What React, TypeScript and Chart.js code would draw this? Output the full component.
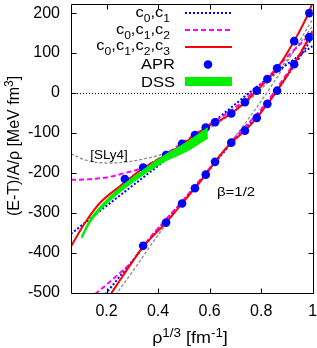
import React, { useEffect, useRef } from 'react';
import { Chart, registerables } from 'chart.js';

Chart.register(...registerables);

const FONT = "'Liberation Sans', Arial, Helvetica, sans-serif";

// axis ticks
const xTicks = [0.2, 0.4, 0.6, 0.8, 1.0];
const yTicks = [-500, -400, -300, -200, -100, 0, 100, 200];

// APR points
const aprUpperX = [0.271, 0.342, 0.431, 0.493, 0.543, 0.585, 0.621, 0.684, 0.737, 0.783, 0.824, 0.862, 0.928, 0.987];
const aprUpperY = [-215, -186, -155, -127, -105, -86, -73, -51, -23, 6, 35, 62, 130, 200];
const aprLowerX = [0.342, 0.431, 0.493, 0.543, 0.585, 0.621, 0.684, 0.737, 0.783, 0.824, 0.862, 0.928, 0.987];
const aprLowerY = [-382, -324, -276, -238, -204, -172, -124, -94, -62, -27, 6, 72, 140];

// upper branch curves
const redUpperX = [0.062, 0.1, 0.123, 0.174, 0.252, 0.342, 0.431, 0.5, 0.585, 0.684, 0.783, 0.862, 0.928, 0.987, 1.0];
const redUpperY = [-384, -341, -318, -275, -233, -188, -155, -126, -87, -51, 6, 62, 130, 205, 228];
const magUpperX = [0.062, 0.12, 0.2, 0.27, 0.335, 0.4, 0.5, 0.6, 0.7, 0.8, 0.9, 1.0];
const magUpperY = [-217, -216, -211, -200, -188, -165, -122, -78, -36, 22, 90, 152];
const blueUpperX = [0.062, 0.2, 0.4, 0.6, 0.8, 1.0];
const blueUpperY = [-352, -282, -182, -80, 24, 118];
const slyUpperX = [0.062, 0.12, 0.2, 0.28, 0.35, 0.42, 0.5, 0.6, 0.7, 0.8, 0.9, 1.0];
const slyUpperY = [-152, -168, -175, -172, -164, -152, -127, -88, -45, 10, 82, 168];

// lower branch (beta = 1/2) curves
const redLowerX = [0.21, 0.25, 0.3, 0.342, 0.431, 0.493, 0.543, 0.585, 0.621, 0.684, 0.737, 0.783, 0.824, 0.862, 0.928, 0.987, 1.0];
const redLowerY = [-509, -470, -422, -384, -324, -276, -238, -204, -172, -124, -94, -62, -27, 6, 72, 140, 156];
const magLowerX = [0.155, 0.2, 0.25, 0.3, 0.342, 0.4, 0.5, 0.6, 0.7, 0.8, 0.9, 1.0];
const magLowerY = [-503, -479, -451, -421, -383, -338, -266, -188, -110, -40, 48, 150];
const blueLowerX = [0.195, 0.3, 0.4, 0.5, 0.6, 0.7, 0.8, 0.9, 1.0];
const blueLowerY = [-503, -420, -340, -268, -190, -114, -45, 42, 140];
const slyLowerX = [0.235, 0.3, 0.4, 0.5, 0.6, 0.7, 0.8, 0.9, 1.0];
const slyLowerY = [-505, -447, -355, -270, -190, -108, -20, 78, 185];

// DSS band
const dssX = [0.103, 0.135, 0.187, 0.25, 0.342, 0.426, 0.51, 0.593];
const dssTopY = [-359, -318, -277, -238, -193, -156, -124, -87];
const dssBotY = [-363, -324, -284, -248, -204, -170, -145, -112];

const RED = '#ff0000';
const BLUE = '#0000ff';
const MAG = '#ff00ff';
const GRAY = '#8a8a8a';
const GREEN = '#00ee00';

const zip = (xs: number[], ys: number[]) => xs.map((x, i) => ({ x, y: ys[i] }));

type Part = { t: string; s: number; dy?: number };

function drawRich(ctx: CanvasRenderingContext2D, parts: Part[], x: number, y: number, align: 'left' | 'right' | 'center', sx = 1, rot = 0) {
  ctx.save();
  ctx.textBaseline = 'alphabetic';
  ctx.textAlign = 'left';
  ctx.fillStyle = '#000';
  let w = 0;
  const ws: number[] = [];
  for (const p of parts) {
    ctx.font = `${p.s}px ${FONT}`;
    const m = ctx.measureText(p.t).width;
    ws.push(m);
    w += m;
  }
  ctx.translate(x, y);
  if (rot) ctx.rotate(rot);
  ctx.scale(sx, 1);
  let cx = align === 'right' ? -w : align === 'center' ? -w / 2 : 0;
  parts.forEach((p, i) => {
    ctx.font = `${p.s}px ${FONT}`;
    ctx.fillText(p.t, cx, p.dy || 0);
    cx += ws[i];
  });
  ctx.restore();
}

const sub = (names: string[]): Part[] => {
  const out: Part[] = [];
  names.forEach((n, i) => {
    if (i > 0) out.push({ t: ',', s: 15 });
    out.push({ t: 'c', s: 15 });
    out.push({ t: n, s: 11, dy: 5 });
  });
  return out;
};

const decor = {
  id: 'decor',
  beforeDatasetsDraw(chart: any) {
    const { ctx, chartArea: a, scales } = chart;
    const py = Math.round(scales.y.getPixelForValue(0)) + 0.5;
    ctx.save();
    ctx.strokeStyle = '#000';
    ctx.lineWidth = 1;
    ctx.setLineDash([1, 2]);
    ctx.beginPath();
    ctx.moveTo(a.left, py);
    ctx.lineTo(a.right, py);
    ctx.stroke();
    ctx.restore();
  },
  afterDraw(chart: any) {
    const { ctx, chartArea: a, scales } = chart;
    const L = Math.round(a.left) + 0.5;
    const R = Math.round(a.right) + 0.5;
    const T = Math.round(a.top) + 0.5;
    const B = Math.round(a.bottom) + 0.5;
    ctx.save();
    ctx.strokeStyle = '#000';
    ctx.lineWidth = 1;
    ctx.beginPath();
    ctx.rect(L, T, R - L, B - T);
    const tl = 5;
    for (const v of xTicks) {
      const px = Math.round(scales.x.getPixelForValue(v)) + 0.5;
      ctx.moveTo(px, B); ctx.lineTo(px, B - tl);
      ctx.moveTo(px, T); ctx.lineTo(px, T + tl);
    }
    for (const v of yTicks) {
      const py = Math.round(scales.y.getPixelForValue(v)) + 0.5;
      ctx.moveTo(L, py); ctx.lineTo(L + tl, py);
      ctx.moveTo(R, py); ctx.lineTo(R - tl, py);
    }
    ctx.stroke();

    // legend
    const x0 = 185, x1 = 232;
    ctx.lineWidth = 2;
    ctx.strokeStyle = BLUE; ctx.setLineDash([2, 2]);
    ctx.beginPath(); ctx.moveTo(x0, 13); ctx.lineTo(x1, 13); ctx.stroke();
    ctx.strokeStyle = MAG; ctx.setLineDash([5, 3]);
    ctx.beginPath(); ctx.moveTo(x0, 30); ctx.lineTo(x1, 30); ctx.stroke();
    ctx.strokeStyle = RED; ctx.setLineDash([]);
    ctx.beginPath(); ctx.moveTo(x0, 47); ctx.lineTo(x1, 47); ctx.stroke();
    ctx.fillStyle = BLUE;
    ctx.beginPath(); ctx.arc(208, 64.5, 4.3, 0, Math.PI * 2); ctx.fill();
    ctx.fillStyle = GREEN;
    ctx.fillRect(x0, 77, x1 - x0, 9);
    ctx.restore();

    drawRich(ctx, sub(['0', '1']), 170, 17, 'right', 1.1);
    drawRich(ctx, sub(['0', '1', '2']), 170, 33.5, 'right', 1.1);
    drawRich(ctx, sub(['0', '1', '2', '3']), 170, 50, 'right', 1.1);
    drawRich(ctx, [{ t: 'APR', s: 15 }], 175, 68.5, 'right', 1.1);
    drawRich(ctx, [{ t: 'DSS', s: 15 }], 175, 86.5, 'right', 1.1);

    // annotations
    ctx.save();
    drawRich(ctx, [{ t: '[SLy4]', s: 12 }], 109, 159, 'center', 1.12);
    drawRich(ctx, [{ t: 'β=1/2', s: 13 }], 217, 196, 'left', 1.15);
    ctx.restore();

    // axis titles
    drawRich(ctx, [
      { t: 'ρ', s: 16 }, { t: '1/3', s: 12, dy: -6.5 }, { t: ' [fm', s: 16 }, { t: '-1', s: 12, dy: -6.5 }, { t: ']', s: 16 },
    ], 190, 343, 'center', 1.12);
    drawRich(ctx, [
      { t: '(E-T)/A/ρ [MeV fm', s: 16 }, { t: '3', s: 12, dy: -6.5 }, { t: ']', s: 16 },
    ], 19, 146, 'center', 1, -Math.PI / 2);
  },
};

function lineDs(xs: number[], ys: number[], color: string, width: number, dash: number[], order: number) {
  return {
    type: 'line' as const,
    data: zip(xs, ys),
    borderColor: color,
    backgroundColor: color,
    borderWidth: width,
    borderDash: dash,
    pointRadius: 0,
    fill: false,
    cubicInterpolationMode: 'monotone' as const,
    order,
    clip: 0,
  };
}

export default function App() {
  const ref = useRef<HTMLCanvasElement>(null);
  useEffect(() => {
    const datasets: any[] = [
      lineDs(slyUpperX, slyUpperY, GRAY, 1.3, [3, 2], 9),
      lineDs(slyLowerX, slyLowerY, GRAY, 1.3, [3, 2], 9),
      lineDs(blueUpperX, blueUpperY, BLUE, 2, [2, 2], 8),
      lineDs(blueLowerX, blueLowerY, BLUE, 2, [2, 2], 8),
      lineDs(magUpperX, magUpperY, MAG, 2, [5, 3], 7),
      lineDs(magLowerX, magLowerY, MAG, 2, [5, 3], 7),
      lineDs(redUpperX, redUpperY, RED, 2, [], 6),
      lineDs(redLowerX, redLowerY, RED, 2, [], 6),
      {
        type: 'line', data: zip(aprUpperX, aprUpperY), showLine: false, pointRadius: 4.3,
        pointBackgroundColor: BLUE, pointBorderWidth: 0, borderColor: BLUE, order: 5,
      },
      {
        type: 'line', data: zip(aprLowerX, aprLowerY), showLine: false, pointRadius: 4.3,
        pointBackgroundColor: BLUE, pointBorderWidth: 0, borderColor: BLUE, order: 5,
      },
      {
        ...lineDs(dssX, dssTopY, GREEN, 1.5, [], 3),
      },
      {
        ...lineDs(dssX, dssBotY, GREEN, 1.5, [], 3),
        fill: '-1',
        backgroundColor: GREEN,
      },
    ];
    const chart = new Chart(ref.current as HTMLCanvasElement, {
      type: 'line',
      data: { datasets },
      options: {
        animation: false,
        responsive: false,
        maintainAspectRatio: false,
        devicePixelRatio: 1,
        events: [],
        layout: { padding: { top: 1, right: 4, left: 0, bottom: 0 } },
        plugins: { legend: { display: false }, tooltip: { enabled: false } },
        scales: {
          x: {
            type: 'linear',
            min: 0.062,
            max: 1.0,
            grid: { display: false, drawTicks: false },
            border: { display: false },
            ticks: {
              autoSkip: false,
              maxRotation: 0,
              padding: 9,
              color: '#000',
              font: { family: FONT, size: 16 },
              callback: (v: any) => (Number(v) === 1 ? '1' : Number(v).toFixed(1)),
            },
            afterBuildTicks: (s: any) => { s.ticks = xTicks.map((v) => ({ value: v })); },
            afterFit: (s: any) => { s.height = 55; s.paddingLeft = 0; s.paddingRight = 0; },
          },
          y: {
            type: 'linear',
            min: -500,
            max: 222,
            grid: { display: false, drawTicks: false },
            border: { display: false },
            ticks: {
              autoSkip: false,
              padding: 11,
              color: '#000',
              font: { family: FONT, size: 16 },
              callback: (v: any) => String(v),
            },
            afterBuildTicks: (s: any) => { s.ticks = yTicks.map((v) => ({ value: v })); },
            afterFit: (s: any) => { s.width = 71; s.paddingTop = 0; s.paddingBottom = 0; },
          },
        },
      },
      plugins: [decor],
    } as any);
    return () => chart.destroy();
  }, []);
  return (
    <div style={{ position: 'absolute', left: 0, top: 0, width: 317, height: 348, background: '#fff' }}>
      <canvas ref={ref} width={317} height={348} style={{ display: 'block', width: 317, height: 348 }} />
    </div>
  );
}
